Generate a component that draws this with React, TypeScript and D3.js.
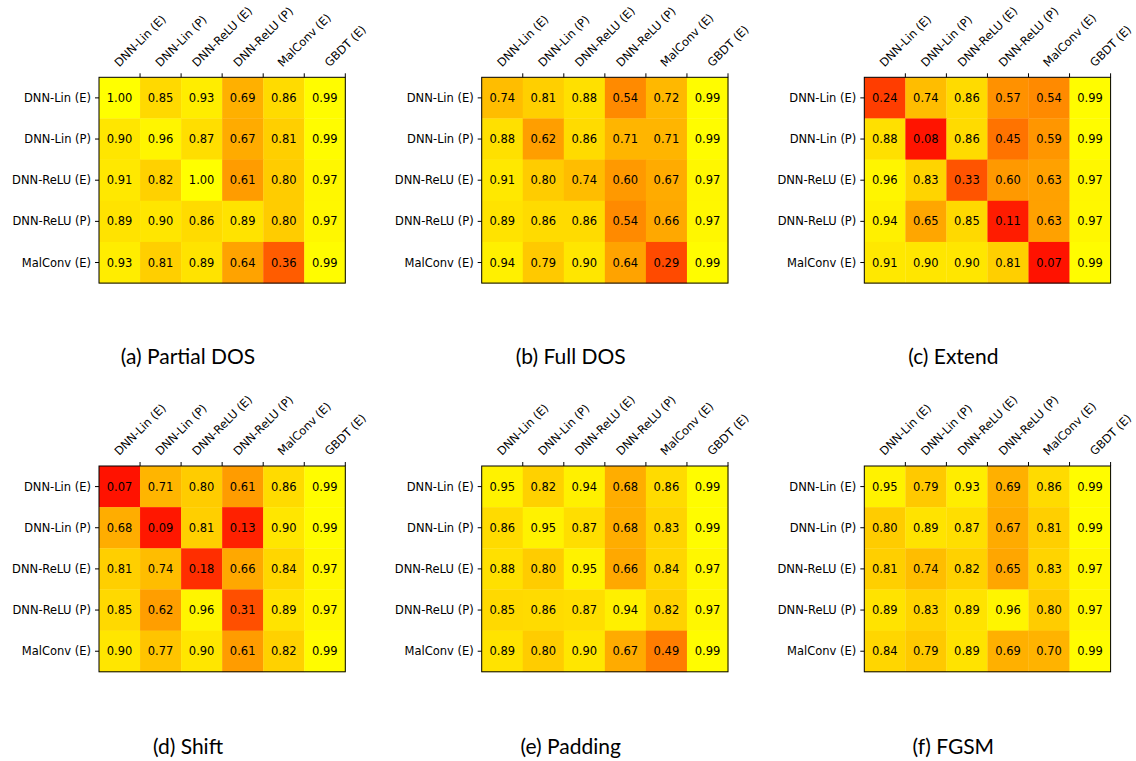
import React, { useEffect, useRef } from "react";
import * as d3 from "d3";

const rowLabels = ["DNN-Lin (E)", "DNN-Lin (P)", "DNN-ReLU (E)", "DNN-ReLU (P)", "MalConv (E)"];
const colLabels = ["DNN-Lin (E)", "DNN-Lin (P)", "DNN-ReLU (E)", "DNN-ReLU (P)", "MalConv (E)", "GBDT (E)"];

const partialDos = [
  [1.0, 0.85, 0.93, 0.69, 0.86, 0.99],
  [0.9, 0.96, 0.87, 0.67, 0.81, 0.99],
  [0.91, 0.82, 1.0, 0.61, 0.8, 0.97],
  [0.89, 0.9, 0.86, 0.89, 0.8, 0.97],
  [0.93, 0.81, 0.89, 0.64, 0.36, 0.99],
];
const fullDos = [
  [0.74, 0.81, 0.88, 0.54, 0.72, 0.99],
  [0.88, 0.62, 0.86, 0.71, 0.71, 0.99],
  [0.91, 0.8, 0.74, 0.6, 0.67, 0.97],
  [0.89, 0.86, 0.86, 0.54, 0.66, 0.97],
  [0.94, 0.79, 0.9, 0.64, 0.29, 0.99],
];
const extend = [
  [0.24, 0.74, 0.86, 0.57, 0.54, 0.99],
  [0.88, 0.08, 0.86, 0.45, 0.59, 0.99],
  [0.96, 0.83, 0.33, 0.6, 0.63, 0.97],
  [0.94, 0.65, 0.85, 0.11, 0.63, 0.97],
  [0.91, 0.9, 0.9, 0.81, 0.07, 0.99],
];
const shift = [
  [0.07, 0.71, 0.8, 0.61, 0.86, 0.99],
  [0.68, 0.09, 0.81, 0.13, 0.9, 0.99],
  [0.81, 0.74, 0.18, 0.66, 0.84, 0.97],
  [0.85, 0.62, 0.96, 0.31, 0.89, 0.97],
  [0.9, 0.77, 0.9, 0.61, 0.82, 0.99],
];
const padding = [
  [0.95, 0.82, 0.94, 0.68, 0.86, 0.99],
  [0.86, 0.95, 0.87, 0.68, 0.83, 0.99],
  [0.88, 0.8, 0.95, 0.66, 0.84, 0.97],
  [0.85, 0.86, 0.87, 0.94, 0.82, 0.97],
  [0.89, 0.8, 0.9, 0.67, 0.49, 0.99],
];
const fgsm = [
  [0.95, 0.79, 0.93, 0.69, 0.86, 0.99],
  [0.8, 0.89, 0.87, 0.67, 0.81, 0.99],
  [0.81, 0.74, 0.82, 0.65, 0.83, 0.97],
  [0.89, 0.83, 0.89, 0.96, 0.8, 0.97],
  [0.84, 0.79, 0.89, 0.69, 0.7, 0.99],
];

const panelTitles = ["(a) Partial DOS", "(b) Full DOS", "(c) Extend", "(d) Shift", "(e) Padding", "(f) FGSM"];
const panelData = [partialDos, fullDos, extend, shift, padding, fgsm];

export default function App() {
  const ref = useRef<SVGSVGElement>(null);

  useEffect(() => {
    const svg = d3.select(ref.current as SVGSVGElement);
    svg.selectAll("*").remove();

    const lefts = [99, 481.7, 864.3];
    const tops = [77.3, 466];
    const W = 246.3;
    const H = 205.8;
    const fontFam = "DejaVu Sans";
    const fs = 11.5;
    const tickLen = 4;
    const pad = 4;

    const color = d3.scaleLinear<string>().domain([0, 1]).range(["#ff0000", "#ffff00"]).clamp(true);

    panelData.forEach((data, p) => {
      const left = lefts[p % 3];
      const top = tops[Math.floor(p / 3)];
      const x = d3.scaleBand<number>().domain(d3.range(colLabels.length)).range([0, W]).padding(0);
      const y = d3.scaleBand<number>().domain(d3.range(rowLabels.length)).range([0, H]).padding(0);

      const g = svg.append("g").attr("transform", `translate(${left},${top})`);

      const cells: { r: number; c: number; v: number }[] = [];
      data.forEach((row, r) => row.forEach((v, c) => cells.push({ r, c, v })));

      g.selectAll("rect.cell")
        .data(cells)
        .enter()
        .append("rect")
        .attr("x", (d) => x(d.c)!)
        .attr("y", (d) => y(d.r)!)
        .attr("width", x.bandwidth() + 0.3)
        .attr("height", y.bandwidth() + 0.3)
        .attr("fill", (d) => color(d.v));

      g.selectAll("text.val")
        .data(cells)
        .enter()
        .append("text")
        .attr("x", (d) => x(d.c)! + x.bandwidth() / 2)
        .attr("y", (d) => y(d.r)! + y.bandwidth() / 2)
        .attr("text-anchor", "middle")
        .attr("dominant-baseline", "central")
        .attr("font-family", fontFam)
        .attr("font-size", fs)
        .attr("fill", "#000")
        .text((d) => d.v.toFixed(2));

      // frame
      g.append("rect")
        .attr("x", 0)
        .attr("y", 0)
        .attr("width", W)
        .attr("height", H)
        .attr("fill", "none")
        .attr("stroke", "#000")
        .attr("stroke-width", 1);

      // y ticks & labels
      rowLabels.forEach((lab, r) => {
        const cy = y(r)! + y.bandwidth() / 2;
        g.append("line")
          .attr("x1", -tickLen)
          .attr("x2", 0)
          .attr("y1", cy)
          .attr("y2", cy)
          .attr("stroke", "#000")
          .attr("stroke-width", 1);
        g.append("text")
          .attr("x", -tickLen - pad)
          .attr("y", cy)
          .attr("text-anchor", "end")
          .attr("dominant-baseline", "central")
          .attr("font-family", fontFam)
          .attr("font-size", fs)
          .attr("fill", "#000")
          .text(lab);
      });

      // x ticks (at right edge of each column) & rotated labels
      colLabels.forEach((lab, c) => {
        const tx = x(c)! + x.bandwidth();
        g.append("line")
          .attr("x1", tx)
          .attr("x2", tx)
          .attr("y1", -tickLen)
          .attr("y2", 0)
          .attr("stroke", "#000")
          .attr("stroke-width", 1);
        const t = g
          .append("text")
          .attr("text-anchor", "middle")
          .attr("dominant-baseline", "central")
          .attr("font-family", fontFam)
          .attr("font-size", fs)
          .attr("fill", "#000")
          .text(lab);
        const w = (t.node() as SVGTextElement).getComputedTextLength();
        const h = fs * 1.16;
        const bb = (w + h) / Math.SQRT2;
        const cy = -tickLen - pad - bb / 2;
        t.attr("transform", `translate(${tx},${cy}) rotate(-45)`);
      });

      // caption
      svg
        .append("text")
        .attr("x", left + 89)
        .attr("y", top + (p < 3 ? 286.7 : 288))
        .attr("text-anchor", "middle")
        .attr("font-family", "Lato")
        .attr("font-size", 21)
        .attr("fill", "#000")
        .text(panelTitles[p]);
    });
  }, []);

  return (
    <svg
      ref={ref}
      width={1136}
      height={761}
      style={{ position: "absolute", left: 0, top: 0, display: "block", background: "#fff" }}
    />
  );
}
